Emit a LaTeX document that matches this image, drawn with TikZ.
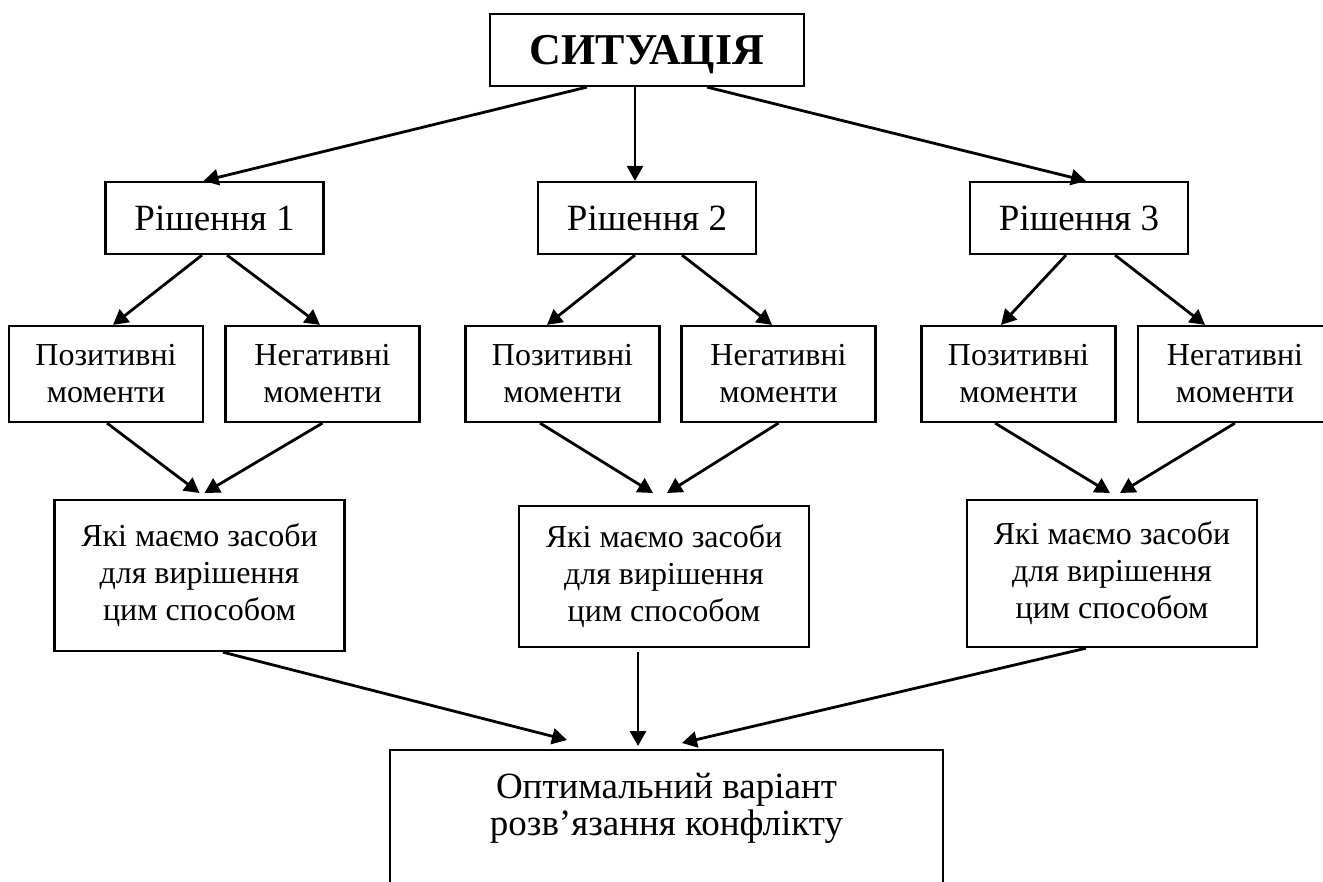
\documentclass[tikz,border=0pt]{standalone}
\usepackage{fontspec}
\setmainfont{Liberation Serif}
\usetikzlibrary{positioning}
\usetikzlibrary{arrows.meta}
\usetikzlibrary{calc}

\begin{document}
\begin{tikzpicture}[
			x=0.5pt, y=-0.5pt,
			box/.style={draw, line width=1.1pt, align=center, inner sep=2pt},
			sitbox/.style={box, font=\fontsize{22}{24}\selectfont\bfseries, minimum width=157pt, minimum height=36pt, text depth=0pt},
			rishbox/.style={box, font=\fontsize{18.5}{21}\selectfont, minimum width=109pt, minimum height=36pt},
			momentbox/.style={box, font=\fontsize{16}{18.5}\selectfont, minimum width=97pt, minimum height=48pt},
			meansbox/.style={box, font=\fontsize{16}{18.5}\selectfont, minimum width=145pt, anchor=north},
			resultbox/.style={box, font=\fontsize{18.5}{18.5}\selectfont, minimum width=276.5pt, inner ysep=11.5pt, anchor=north},
			arr/.style={draw, line width=1.4pt, -{Triangle[length=7.5pt, width=8pt]}}
			]
			
			\useasboundingbox (0,0) rectangle (1323,882);
			
			% Top node
			\node[sitbox] (sit) at (647,50) {СИТУАЦІЯ};
			
			% Decisions
			\node[rishbox] (r1) at (214.5,218) {Рішення 1};
			\node[rishbox] (r2) at (647,218) {Рішення 2};
			\node[rishbox] (r3) at (1079,218) {Рішення 3};
			
			% Positive and negative sides
			\node[momentbox] (p1) at (106,374) {Позитивні\\моменти};
			\node[momentbox] (n1) at (322.5,374) {Негативні\\моменти};
			\node[momentbox] (p2) at (562.5,374) {Позитивні\\моменти};
			\node[momentbox] (n2) at (778.5,374) {Негативні\\моменти};
			\node[momentbox] (p3) at (1018.5,374) {Позитивні\\моменти};
			\node[momentbox] (n3) at (1235,374) {Негативні\\моменти};
			
			% Means (text sits high in the box)
			\node[meansbox, inner ysep=11.5pt] (m1) at (199.5,499) {\parbox[t][52.5pt][t]{140pt}{\centering Які маємо засоби\\для вирішення\\цим способом}};
			\node[meansbox, inner ysep=9pt] (m2) at (664,505) {\parbox[t][52.5pt][t]{140pt}{\centering Які маємо засоби\\для вирішення\\цим способом}};
			\node[meansbox, inner ysep=10.5pt] (m3) at (1112,499) {\parbox[t][52.5pt][t]{140pt}{\centering Які маємо засоби\\для вирішення\\цим способом}};
			
			% Result box (runs off the bottom)
			\node[resultbox] (opt) at (666.5,749) {\parbox[t][90pt][t]{270pt}{\centering Оптимальний варіант\\розв’язання конфлікту}};
			
			% Edges from the top node
			\draw[arr] ($(sit.south)+(-60,0)$) -- ($(r1.north)+(-11,0)$);
			\draw[arr] ($(sit.south)+(-12,0)$) -- ($(r2.north)+(-12,0)$);
			\draw[arr] ($(sit.south)+(60,0)$) -- ($(r3.north)+(7,0)$);
			
			% Edges to the moments
			\draw[arr] ($(r1.south)+(-12.5,0)$) -- ($(p1.north)+(7,0)$);
			\draw[arr] ($(r1.south)+(12.5,0)$) -- ($(n1.north)+(-2.5,0)$);
			\draw[arr] ($(r2.south)+(-12,0)$) -- ($(p2.north)+(-15.5,0)$);
			\draw[arr] ($(r2.south)+(35,0)$) -- ($(n2.north)+(-6.5,0)$);
			\draw[arr] ($(r3.south)+(-13,0)$) -- ($(p3.north)+(-17.5,0)$);
			\draw[arr] ($(r3.south)+(36,0)$) -- ($(n3.north)+(-30,0)$);
			
			% Edges to the means
			\draw[arr] ($(p1.south)+(1,0)$) -- ($(m1.north)+(0,-6)$);
			\draw[arr] (n1.south) -- ($(m1.north)+(5,-6)$);
			\draw[arr] ($(p2.south)+(-22.5,0)$) -- ($(m2.north)+(-11,-12)$);
			\draw[arr] (n2.south) -- ($(m2.north)+(3,-12)$);
			\draw[arr] ($(p3.south)+(-23.5,0)$) -- ($(m3.north)+(-2,-6)$);
			\draw[arr] (n3.south) -- ($(m3.north)+(8,-6)$);
			
			% Edges to the result
			\draw[arr] ($(m1.south)+(23.5,0)$) -- ($(opt.north)+(-99.5,-9)$);
			\draw[arr] ($(m2.south)+(-26,4)$) -- ($(opt.north)+(-28.5,-3)$);
			\draw[arr] ($(m3.south)+(-26,0)$) -- ($(opt.north)+(15.5,-6)$);
			
		\end{tikzpicture}
\end{document}
